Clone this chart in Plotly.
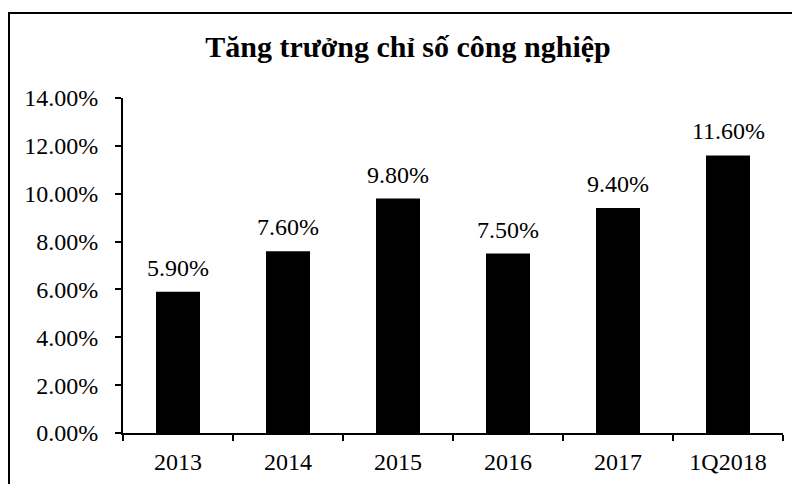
import plotly.graph_objects as go

categories = ["2013", "2014", "2015", "2016", "2017", "1Q2018"]
values = [5.90, 7.60, 9.80, 7.50, 9.40, 11.60]
title_text = "Tăng trưởng chỉ số công nghiệp"

# page body has an 8px offset; positions below are in figure coordinates
L, R, T, B = 115, 25, 90, 59
W, H = 800, 484
pw, ph = W - L - R, H - T - B
FONT = "Liberation Serif"

fig = go.Figure(go.Bar(
    x=categories, y=values,
    marker=dict(color="black", line=dict(width=0)),
    cliponaxis=False,
))

# value labels: x given as category index (numeric-looking names would be read as indices)
for i, v in enumerate(values):
    fig.add_annotation(x=i, y=v, text=f"{v:.2f}%", showarrow=False,
                       yanchor="bottom", yshift=9,
                       font=dict(family=FONT, size=24, color="black"))

fig.update_layout(
    width=W, height=H,
    margin=dict(l=L, r=R, t=T, b=B),
    paper_bgcolor="white", plot_bgcolor="white",
    bargap=0.6,
    showlegend=False,
    font=dict(family=FONT, color="black"),
    title=dict(text="<b>" + title_text + "</b>", x=400 / W, xanchor="center",
               y=1 - 38 / H, yanchor="middle",
               font=dict(family=FONT, size=30, color="black")),
    xaxis=dict(type="category", categoryorder="array", categoryarray=categories,
               range=[-0.5, len(categories) - 0.5], tickangle=0,
               showline=True, linecolor="black", linewidth=2,
               ticks="outside", tickson="boundaries", ticklen=6, tickcolor="black", tickwidth=2,
               ticklabelstandoff=6,
               tickfont=dict(family=FONT, size=24, color="black"),
               showgrid=False, zeroline=False),
    yaxis=dict(range=[0, 14], dtick=2, tickformat=".2f", ticksuffix="%",
               showline=True, linecolor="black", linewidth=2,
               ticks="outside", ticklen=6, tickcolor="black", tickwidth=2,
               ticklabelstandoff=12,
               tickfont=dict(family=FONT, size=24, color="black"),
               showgrid=False, zeroline=False),
    shapes=[
        dict(type="line", xref="paper", yref="paper",
             x0=(0 - L) / pw, x1=(800 - L) / pw,
             y0=1 + (T - 5) / ph, y1=1 + (T - 5) / ph,
             line=dict(color="black", width=2)),
        dict(type="line", xref="paper", yref="paper",
             x0=(1 - L) / pw, x1=(1 - L) / pw,
             y0=1 + (T - 5) / ph, y1=-0.3,
             line=dict(color="black", width=2)),
    ],
)

fig.write_html("out.html")
